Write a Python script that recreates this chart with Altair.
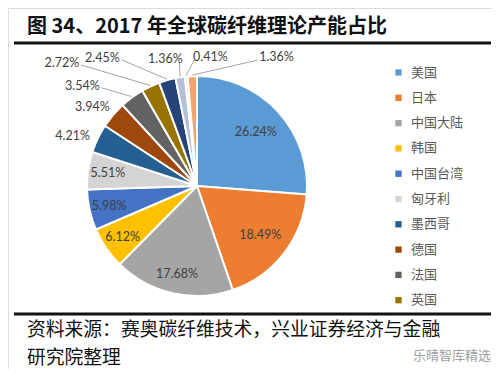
import altair as alt
import pandas as pd

# ---------------- data ----------------
countries = ["美国", "日本", "中国大陆", "韩国", "中国台湾", "匈牙利", "墨西哥",
             "德国", "法国", "英国", "土耳其", "俄罗斯", "印度", "其他"]
shares = [26.24, 18.49, 17.68, 6.12, 5.98, 5.51, 4.21, 3.94, 3.54, 2.72,
          2.45, 1.36, 0.41, 1.36]
legend_names = countries[:10]

title_text = "图 34、2017 年全球碳纤维理论产能占比"
source_lines = ["资料来源：赛奥碳纤维技术，兴业证券经济与金融", "研究院整理"]
watermark_text = "乐晴智库精选"

# ---------------- styles ----------------
palette = ["#5B9BD5", "#ED7D31", "#A5A5A5", "#FFC000", "#4472C4", "#D4D4D4",
           "#255E91", "#9E480E", "#636363", "#997300", "#264478", "#B4C0D6",
           "#E6E6E6", "#F4A46A"]
CJK = "Noto Sans CJK SC"
NUM = "Lato"
W, H = 484, 361
CX, CY, R = 189, 178, 110
RL, RE = 128, 111          # label base radius, leader edge radius

# outside-label nudges (layout): idx -> (dx, dy, leader anchor dx, dy or None)
outside = {
    6: (-9, 5, None),
    7: (-7, 4, None),
    8: (-39, 3, (19, 2)),
    9: (-81, -7, (19, 2)),
    10: (-60, -5, (19, 2)),
    11: (-12, -1, (14, 4)),
    12: (26, -2, (-16, 3)),
    13: (85, -1, (-19, 3)),
}

df = pd.DataFrame({"idx": list(range(len(countries))), "country": countries, "value": shares})
base = alt.Chart(df)
theta = alt.Theta("value:Q", stack=True)
order = alt.Order("idx:Q")

pie = base.mark_arc(radius=R, stroke="white", strokeWidth=2).encode(
    theta=theta,
    order=order,
    color=alt.Color(
        "country:N",
        scale=alt.Scale(domain=countries, range=palette),
        legend=alt.Legend(
            orient="none", legendX=384, legendY=58, title=None,
            values=legend_names, symbolType="square", symbolSize=40,
            symbolStrokeWidth=0, labelFont=CJK, labelFontSize=13,
            labelColor="#595959", rowPadding=11.3, labelOffset=6, padding=0,
        ),
    ),
    x=alt.value(CX),
    y=alt.value(CY),
)


def inner_labels(idxs, r):
    return base.transform_calculate(
        lab=f"indexof({idxs}, datum.idx) >= 0 ? format(datum.value, '.2f') + '%' : ''"
    ).mark_text(radius=r, font=NUM, fontSize=12.5, color="#404040").encode(
        theta=theta, order=order, text="lab:N",
        x=alt.value(CX), y=alt.value(CY),
    )


layers = [pie, inner_labels([0, 1], 80), inner_labels([2, 3, 4, 5], 90)]

cum = base.transform_window(
    cum="sum(value)", sort=[alt.SortField("idx")], frame=[None, 0]
).transform_joinaggregate(total="sum(value)").transform_calculate(
    ang="2*PI*(datum.cum - datum.value/2)/datum.total"
)

for i, (ndx, ndy, anchor) in outside.items():
    sub = cum.transform_filter(f"datum.idx == {i}").transform_calculate(
        lx=f"{CX} + {RL}*sin(datum.ang) + ({ndx})",
        ly=f"{CY} - {RL}*cos(datum.ang) + ({ndy})",
        ex=f"{CX} + {RE}*sin(datum.ang)",
        ey=f"{CY} - {RE}*cos(datum.ang)",
        lab="format(datum.value, '.2f') + '%'",
    )
    if anchor is not None:
        ax, ay = anchor
        layers.append(
            sub.transform_calculate(
                ax=f"datum.lx + ({ax})", ay=f"datum.ly + ({ay})"
            ).mark_rule(color="#A6A6A6", strokeWidth=1).encode(
                x=alt.X("ax:Q", scale=None, axis=None),
                y=alt.Y("ay:Q", scale=None, axis=None),
                x2="ex:Q", y2="ey:Q",
            )
        )
    layers.append(
        sub.mark_text(font=NUM, fontSize=12.5, color="#404040").encode(
            x=alt.X("lx:Q", scale=None, axis=None),
            y=alt.Y("ly:Q", scale=None, axis=None),
            text="lab:N",
        )
    )

# title, rules, source, watermark
tdf = pd.DataFrame({"t": [title_text]})
layers.append(
    alt.Chart(tdf).mark_text(font=CJK, fontSize=20, fontWeight="bold", color="#111111",
                             align="left", baseline="middle").encode(
        text="t:N", x=alt.value(19), y=alt.value(19))
)
layers.append(
    alt.Chart(tdf).mark_rule(color="#111111", strokeWidth=3).encode(
        x=alt.value(6), x2=alt.value(483), y=alt.value(35))
)
layers.append(
    alt.Chart(tdf).mark_rule(color="#111111", strokeWidth=3).encode(
        x=alt.value(6), x2=alt.value(483), y=alt.value(306))
)
for k, line in enumerate(source_lines):
    layers.append(
        alt.Chart(pd.DataFrame({"t": [line]})).mark_text(
            font=CJK, fontSize=18.8, color="#111111", align="left", baseline="middle"
        ).encode(text="t:N", x=alt.value(19), y=alt.value(322 + 27.5 * k))
    )
layers.append(
    alt.Chart(pd.DataFrame({"t": [watermark_text]})).mark_text(
        font=CJK, fontSize=13, color="#A0A0A0", align="left", baseline="middle"
    ).encode(text="t:N", x=alt.value(405), y=alt.value(348))
)

chart = alt.layer(*layers).properties(
    width=W, height=H, autosize="none", padding=0
).configure_view(stroke=None).configure(background="white")

chart.save("out.html", embed_options={"renderer": "svg", "actions": False})
